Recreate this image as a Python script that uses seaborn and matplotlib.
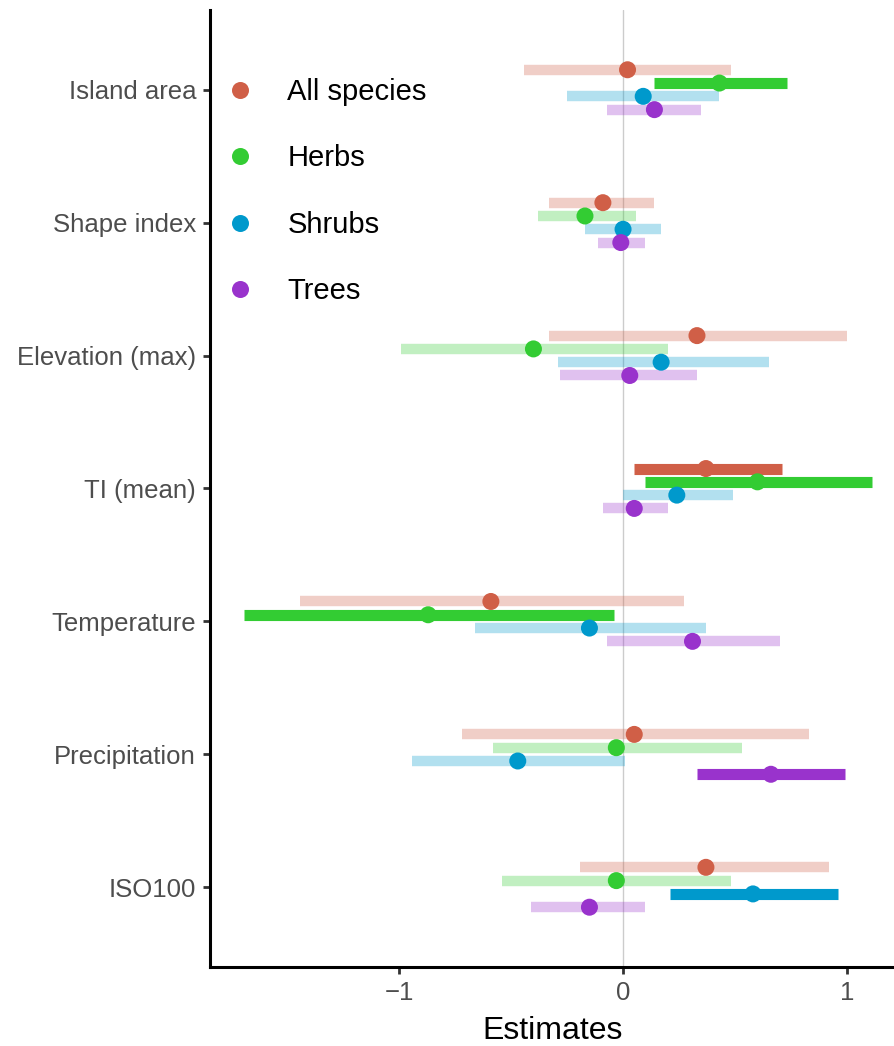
import matplotlib
matplotlib.use("Agg")
import matplotlib.pyplot as plt
import seaborn as sns
import pandas as pd
import numpy as np

predictors = ["Island area", "Shape index", "Elevation (max)", "TI (mean)",
              "Temperature", "Precipitation", "ISO100"]
groups = ["All species", "Herbs", "Shrubs", "Trees"]
colors = ["#D05F47", "#33CC33", "#0099CC", "#9933CC"]

# estimates per predictor, one list per group
est_all = [0.02, -0.09, 0.33, 0.37, -0.59, 0.05, 0.37]
est_herbs = [0.43, -0.17, -0.40, 0.60, -0.87, -0.03, -0.03]
est_shrubs = [0.09, 0.00, 0.17, 0.24, -0.15, -0.47, 0.58]
est_trees = [0.14, -0.01, 0.03, 0.05, 0.31, 0.66, -0.15]

lo_all = [-0.44, -0.33, -0.33, 0.05, -1.44, -0.72, -0.19]
hi_all = [0.48, 0.14, 1.00, 0.71, 0.27, 0.83, 0.92]
lo_herbs = [0.14, -0.38, -0.99, 0.10, -1.69, -0.58, -0.54]
hi_herbs = [0.73, 0.06, 0.20, 1.11, -0.04, 0.53, 0.48]
lo_shrubs = [-0.25, -0.17, -0.29, 0.00, -0.66, -0.94, 0.21]
hi_shrubs = [0.43, 0.17, 0.65, 0.49, 0.37, 0.01, 0.96]
lo_trees = [-0.07, -0.11, -0.28, -0.09, -0.07, 0.33, -0.41]
hi_trees = [0.35, 0.10, 0.33, 0.20, 0.70, 0.99, 0.10]

frames = []
for g, e, lo, hi in zip(groups,
                        [est_all, est_herbs, est_shrubs, est_trees],
                        [lo_all, lo_herbs, lo_shrubs, lo_trees],
                        [hi_all, hi_herbs, hi_shrubs, hi_trees]):
    frames.append(pd.DataFrame({"predictor": predictors, "group": g,
                                "est": e, "lo": lo, "hi": hi}))
df = pd.concat(frames, ignore_index=True)
# significant = CI does not cross zero
df["sig"] = (df["lo"] > 0) | (df["hi"] < 0)

offsets = dict(zip(groups, [-0.15, -0.05, 0.05, 0.15]))
df["y"] = df["predictor"].map({p: i for i, p in enumerate(predictors)}) + df["group"].map(offsets)

sns.set_style("white")
plt.rcParams["font.family"] = ["Liberation Sans", "DejaVu Sans"]
plt.rcParams["text.color"] = "black"

fig = plt.figure(figsize=(8.95, 10.46), dpi=100)
ax = fig.add_axes([0.2346, 0.0755, 0.7654, 0.915])

ax.axvline(0, color="#CCCCCC", lw=1, zorder=0)

pal = dict(zip(groups, colors))
for _, r in df.iterrows():
    ax.hlines(r["y"], r["lo"], r["hi"], color=pal[r["group"]],
              alpha=1.0 if r["sig"] else 0.3,
              lw=8 if r["sig"] else 7.5, zorder=1)

sns.scatterplot(data=df, x="est", y="y", hue="group", palette=pal,
                s=150, linewidth=0, ax=ax, zorder=2, legend=True)

ax.set_yticks(range(len(predictors)))
ax.set_yticklabels(predictors)
ax.set_ylim(6.6, -0.6)
ax.set_xlim(-1.844, 1.214)
ax.set_xticks([-1, 0, 1])
ax.set_xticklabels(["\u22121", "0", "1"])
ax.set_xlabel("Estimates", fontsize=23, color="black", labelpad=8)
ax.set_ylabel("")

ax.tick_params(axis="both", labelsize=18.5, labelcolor="#4D4D4D",
               color="#333333", length=5, width=2, pad=5, left=True, bottom=True)
for s in ["top", "right"]:
    ax.spines[s].set_visible(False)
for s in ["left", "bottom"]:
    ax.spines[s].set_color("black")
    ax.spines[s].set_linewidth(2.2)

leg = ax.legend(loc="upper left", bbox_to_anchor=(0.0226, 0.929), frameon=False,
                fontsize=21, title=None, markerscale=1.0, handlelength=1.0,
                handletextpad=1.12, labelspacing=1.32, borderaxespad=0,
                borderpad=0, labelcolor="black")

fig.savefig("out.png", dpi=100)
